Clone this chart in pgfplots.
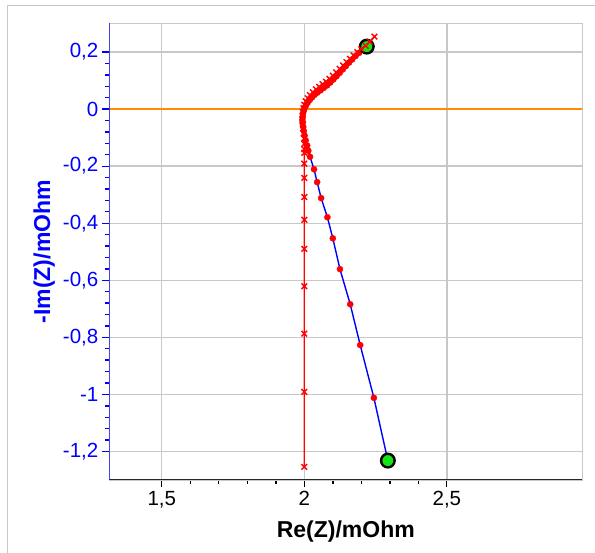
\documentclass[border=0pt]{standalone}
\usepackage{pgfplots}
\pgfplotsset{compat=1.18}
\usepackage{fontspec}
\setmainfont{Liberation Sans}

\definecolor{gridgray}{RGB}{200,200,200}
\definecolor{lineorange}{RGB}{255,140,0}
\definecolor{markgreen}{RGB}{20,230,20}

\begin{document}
\begin{tikzpicture}[x=1pt,y=1pt]
\useasboundingbox (0,0) rectangle (595,553);
% outer frame
\draw[gridgray, line width=1pt] (7.3,0) -- (7.3,547) -- (595,547);

\begin{axis}[
    at={(109.3pt,73pt)}, anchor=south west,
    scale only axis,
    width=473pt, height=456.5pt,
    xmin=1.316, xmax=2.975,
    ymin=-1.3, ymax=0.3,
    xtick={1.5,2,2.5},
    ytick={-1.2,-1,-0.8,-0.6,-0.4,-0.2,0,0.2},
    minor x tick num=4,
    minor y tick num=4,
    xtick pos=bottom, ytick pos=left,
    tick align=outside,
    major tick length=7.5pt,
    minor tick length=4pt,
    every tick/.append style={line width=1.2pt},
    every minor tick/.append style={line width=1.4pt},
    x tick style={draw=black},
    y tick style={draw=blue},
    minor x tick style={draw=black},
    minor y tick style={draw=blue},
    grid=major,
    major grid style={draw=gridgray, line width=1.3pt},
    axis line style={draw=gridgray, line width=1.3pt},
    /pgf/number format/use comma,
    /pgf/number format/assume math mode=true,
    ticklabel style={font=\fontsize{20.5}{24}\selectfont},
    yticklabel style={text=blue},
    xticklabel style={text=black},
    clip=true,
]
% zero line
\addplot[lineorange, line width=1.5pt, forget plot] coordinates {(1.316,0) (2.975,0)};

% fitted / measured series: blue line with red dots
\addplot[blue, line width=1.4pt, mark=*, mark size=3.1pt,
    mark options={fill=red, draw=red, line width=0.3pt}] coordinates {
(2.219,0.219) (2.205,0.208) (2.192,0.197) (2.180,0.186) (2.168,0.174)
(2.157,0.163) (2.146,0.151) (2.135,0.139) (2.124,0.127) (2.113,0.115)
(2.102,0.104) (2.091,0.093) (2.080,0.083) (2.068,0.074) (2.057,0.066)
(2.046,0.058) (2.036,0.050) (2.027,0.041) (2.019,0.032) (2.012,0.023)
(2.006,0.013) (2.001,0.004) (1.998,-0.006) (1.995,-0.016) (1.994,-0.027)
(1.993,-0.038) (1.994,-0.050) (1.996,-0.063) (1.998,-0.077) (2.001,-0.093)
(2.005,-0.110) (2.010,-0.128) (2.014,-0.146) (2.020,-0.167) (2.034,-0.211)
(2.045,-0.256) (2.059,-0.312) (2.081,-0.379) (2.100,-0.453) (2.125,-0.561)
(2.161,-0.684) (2.196,-0.827) (2.244,-1.012) (2.293,-1.232)
};

% end points
\addplot[only marks, mark=*, mark size=6.8pt,
    mark options={fill=markgreen, draw=black, line width=2.4pt}] coordinates {
(2.219,0.219) (2.293,-1.232)
};

% second series: red line with crosses
\addplot[red, line width=1.3pt, mark=x, mark size=4pt,
    mark options={red, line width=1.4pt}] coordinates {
(2.246,0.254) (2.230,0.236) (2.215,0.222) (2.200,0.210) (2.186,0.199)
(2.173,0.188) (2.160,0.176) (2.148,0.165) (2.136,0.153) (2.124,0.141)
(2.112,0.129) (2.100,0.117) (2.088,0.106) (2.076,0.096) (2.064,0.087)
(2.052,0.078) (2.041,0.069) (2.030,0.059) (2.020,0.049) (2.012,0.038)
(2.005,0.027) (2.000,0.015) (1.997,0.003) (1.995,-0.010) (1.994,-0.023)
(1.994,-0.037) (1.995,-0.052) (1.996,-0.068) (1.998,-0.085) (1.999,-0.103)
(2.000,-0.122) (2.000,-0.141) (2.000,-0.153) (2.000,-0.191) (2.000,-0.241)
(2.000,-0.308) (2.000,-0.388) (2.000,-0.490) (2.000,-0.621) (2.000,-0.787)
(2.000,-0.991) (2.000,-1.254)
};

% coloured left and bottom axis lines
\draw[blue, line width=1.3pt] (rel axis cs:0,0) -- (rel axis cs:0,1);
\draw[black!85, line width=1.5pt] (rel axis cs:0,0) -- (rel axis cs:1,0);
\end{axis}

\node[anchor=base, font=\bfseries\fontsize{23}{27}\selectfont] at (345.8,15.7) {Re(Z)/mOhm};
\node[anchor=base, rotate=90, text=blue, font=\bfseries\fontsize{23}{27}\selectfont] at (50,301.3) {-Im(Z)/mOhm};
\end{tikzpicture}
\end{document}
